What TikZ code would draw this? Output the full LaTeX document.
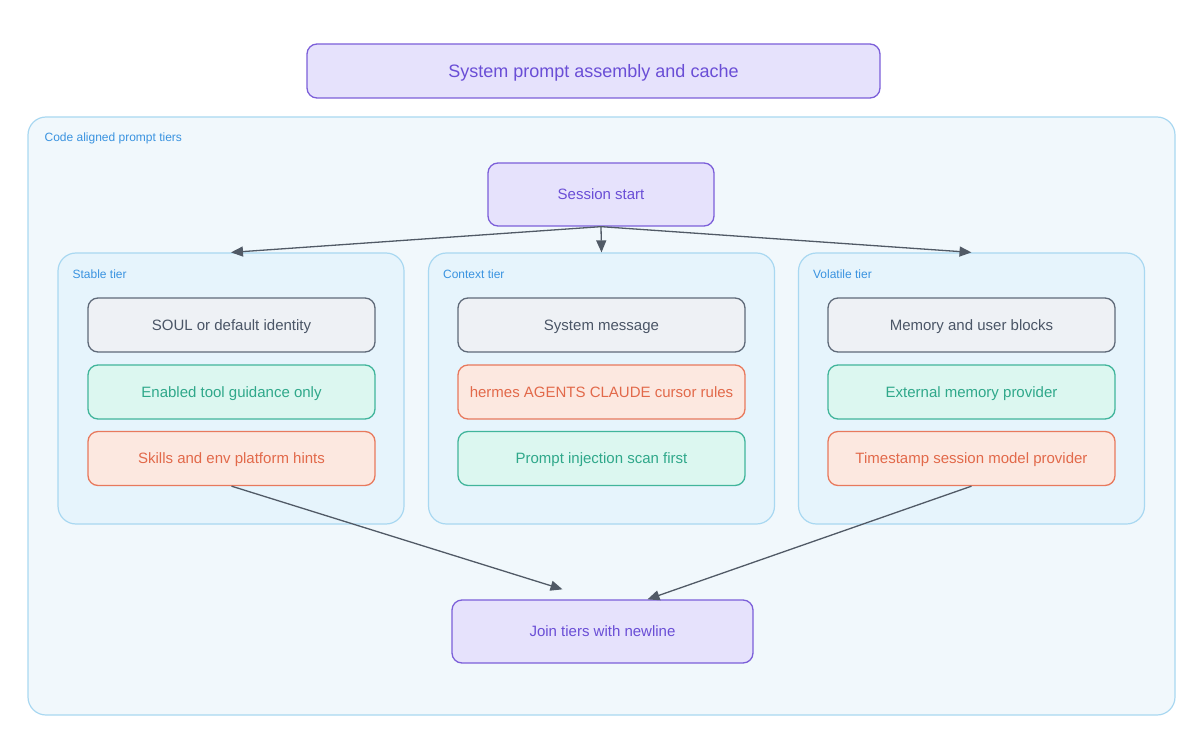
\documentclass[tikz,border=0pt]{standalone}
\usepackage{fontspec}
\setmainfont{Liberation Sans}
\usepackage{xcolor}
\usetikzlibrary{arrows.meta,calc}
\definecolor{spPurple}{HTML}{7C5FD9}
\definecolor{spPurpleFill}{HTML}{E6E2FC}
\definecolor{spPurpleText}{HTML}{6A4ED6}
\definecolor{spBlueLine}{HTML}{A9D8F1}
\definecolor{spOuterFill}{HTML}{F1F8FC}
\definecolor{spTierFill}{HTML}{E6F4FC}
\definecolor{spBlueText}{HTML}{3A93E0}
\definecolor{spGray}{HTML}{5F6A79}
\definecolor{spGrayFill}{HTML}{EEF1F5}
\definecolor{spGrayText}{HTML}{4A5566}
\definecolor{spGreen}{HTML}{41B59B}
\definecolor{spGreenFill}{HTML}{DCF7F0}
\definecolor{spGreenText}{HTML}{2FA88A}
\definecolor{spOrange}{HTML}{E8795D}
\definecolor{spOrangeFill}{HTML}{FCE8E0}
\definecolor{spOrangeText}{HTML}{E2694A}
\definecolor{spArrow}{HTML}{515A66}
\newcommand{\colL}{231.5}
\newcommand{\colM}{601.5}
\newcommand{\colR}{971.5}

\begin{document}
\begin{tikzpicture}[
  x=1pt, y=-1pt,
  font=\fontsize{15}{18}\selectfont,
  box/.style={
    rectangle, rounded corners=10pt, line width=1.3pt, inner sep=0pt,
    minimum width=287pt, minimum height=54pt, align=center,
    text height=10.8pt, text depth=0pt
  },
  keybox/.style={box, draw=spPurple, fill=spPurpleFill, text=spPurpleText},
  graybox/.style={box, draw=spGray, fill=spGrayFill, text=spGrayText},
  greenbox/.style={box, draw=spGreen, fill=spGreenFill, text=spGreenText},
  orangebox/.style={box, draw=spOrange, fill=spOrangeFill, text=spOrangeText},
  tier/.style={
    rectangle, rounded corners=18pt, draw=spBlueLine, line width=1.2pt,
    fill=spTierFill, minimum width=346pt, minimum height=271pt, inner sep=0pt
  },
  tierlbl/.style={anchor=west, font=\fontsize{12}{14}\selectfont, text=spBlueText,
    inner sep=0pt, text height=8.6pt, text depth=0pt},
  flow/.style={
    -{Triangle[length=12pt,width=10pt]},
    draw=spArrow, line width=1.3pt
  }
]
\useasboundingbox (0,0) rectangle (1199,743);

% ---- containers -----------------------------------------------------------
\node[rectangle, rounded corners=18pt, draw=spBlueLine, line width=1.2pt,
  fill=spOuterFill, minimum width=1147pt, minimum height=598pt, inner sep=0pt]
  (outer) at (601.5,416) {};
\node[tierlbl] (outerlbl) at ([xshift=17pt,yshift=-21pt]outer.north west) {Code aligned prompt tiers};

\node[tier] (stable)   at (231,388.5) {};
\node[tier] (context)  at (601.5,388.5) {};
\node[tier] (volatile) at (971.5,388.5) {};
\node[tierlbl] (stablelbl)   at ([xshift=15pt,yshift=-21.5pt]stable.north west)   {Stable tier};
\node[tierlbl] (contextlbl)  at ([xshift=15pt,yshift=-21.5pt]context.north west)  {Context tier};
\node[tierlbl] (volatilelbl) at ([xshift=15pt,yshift=-21.5pt]volatile.north west) {Volatile tier};

% ---- nodes ----------------------------------------------------------------
\node[keybox, minimum width=573pt, font=\fontsize{18}{21}\selectfont, text height=13pt]
  (title) at (593.5,71) {System prompt assembly and cache};
\node[keybox, minimum width=226pt, minimum height=63pt] (start) at (601,194.5) {Session start};
\node[keybox, minimum width=301pt, minimum height=63pt] (join) at (602.5,631.5) {Join tiers with newline};

\node[graybox]   (soul)     at (\colL,325)   {SOUL or default identity};
\node[greenbox]  (toolguide) at (\colL,392)  {Enabled tool guidance only};
\node[orangebox] (skills)   at (\colL,458.5) {Skills and env platform hints};

\node[graybox]   (sysmsg)   at (\colM,325)   {System message};
\node[orangebox] (rules)    at (\colM,392)   {hermes AGENTS CLAUDE cursor rules};
\node[greenbox]  (scan)     at (\colM,458.5) {Prompt injection scan first};

\node[graybox]   (memory)   at (\colR,325)   {Memory and user blocks};
\node[greenbox]  (extmem)   at (\colR,392)   {External memory provider};
\node[orangebox] (stamp)    at (\colR,458.5) {Timestamp session model provider};

% ---- arrows ---------------------------------------------------------------
\draw[flow] (start.south) -- (stable.north);
\draw[flow] (start.south) -- (context.north);
\draw[flow] (start.south) -- (volatile.north);
\draw[flow] (skills.south) -- ([xshift=-40pt,yshift=10pt]join.north);
\draw[flow] (stamp.south) -- ([xshift=45pt]join.north);

\end{tikzpicture}
\end{document}
